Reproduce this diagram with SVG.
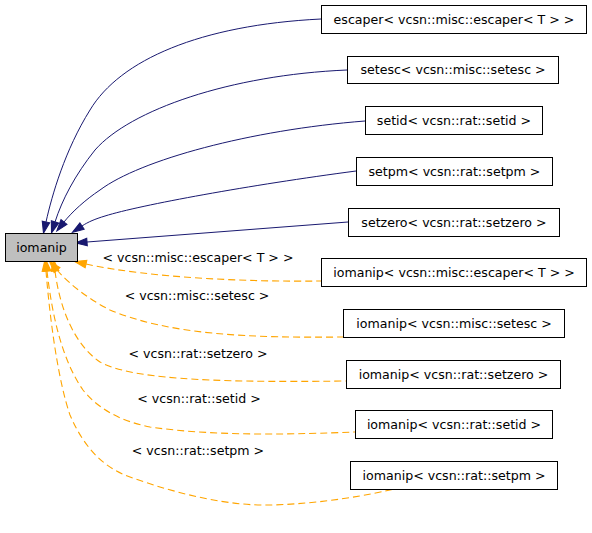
<svg xmlns="http://www.w3.org/2000/svg" width="592" height="533" viewBox="0 0 592 533">
<style>
  .bg { fill: #ffffff; }
  .node rect { fill: #ffffff; stroke: #000000; stroke-width: 1; }
  .node.main rect { fill: #bfbfbf; }
  text { font-family: "DejaVu Sans", "Liberation Sans", sans-serif; font-size: 12.6px; fill: #000000; text-anchor: middle; }
  .inh { fill: none; stroke: #191970; stroke-width: 1; marker-start: url(#navyArrow); }
  .tpl { fill: none; stroke: #ffa500; stroke-width: 1.1; stroke-dasharray: 7,4; marker-start: url(#orangeArrow); }
</style>
<defs>
  <marker id="navyArrow" markerUnits="userSpaceOnUse" markerWidth="12" markerHeight="10" refX="0" refY="4" orient="auto-start-reverse" viewBox="0 0 11 8" overflow="visible">
    <path d="M0,0.5 L10.5,4 L0,7.5 z" fill="#191970" stroke="#191970" stroke-width="1"/>
  </marker>
  <marker id="orangeArrow" markerUnits="userSpaceOnUse" markerWidth="12" markerHeight="10" refX="0" refY="4" orient="auto-start-reverse" viewBox="0 0 11 8" overflow="visible">
    <path d="M0,0.5 L10.5,4 L0,7.5 z" fill="#ffa500" stroke="#ffa500" stroke-width="1"/>
  </marker>
</defs>
<rect class="bg" x="0" y="0" width="592" height="533"/>
<g id="edges">
  <path class="inh" d="M46,222 C52,195 65,150 90,110 C120,60 200,25 321,19"/>
  <path class="inh" d="M55,222 C62,200 75,175 95,150 C130,110 230,75 347,70"/>
  <path class="inh" d="M64,222 C72,212 85,200 100,190 C140,160 250,130 365,121"/>
  <path class="inh" d="M82,226 C88,222 95,219 105,216 C140,205 250,185 356,171"/>
  <path class="inh" d="M87,242 L348,222"/>
  <path class="tpl" d="M86,264 C150,278 250,282 321,281"/>
  <path class="tpl" d="M57,270 C70,285 90,300 110,310 C170,335 250,338 343,337"/>
  <path class="tpl" d="M55,271 C60,310 75,345 100,362 C130,378 200,383 346,381"/>
  <path class="tpl" d="M47,271 C52,315 62,360 83,390 C95,405 115,420 150,427 C220,437 300,434 355,432"/>
  <path class="tpl" d="M46,271 C50,320 58,380 70,415 C85,450 105,468 130,477 C180,495 230,506 270,505 C320,504 370,495 398,488"/>
  <text x="198" y="262">&lt; vcsn::misc::escaper&lt; T &gt; &gt;</text>
  <text x="197" y="300">&lt; vcsn::misc::setesc &gt;</text>
  <text x="198" y="358">&lt; vcsn::rat::setzero &gt;</text>
  <text x="199" y="403">&lt; vcsn::rat::setid &gt;</text>
  <text x="198" y="455">&lt; vcsn::rat::setpm &gt;</text>
</g>
<g id="node-iomanip" class="node main">
  <rect x="5.5" y="233.5" width="72" height="28"/>
  <text x="41.5" y="251.5">iomanip</text>
</g>
<g id="node-escaper" class="node">
  <rect x="321.5" y="5.5" width="265" height="28"/>
  <text x="454" y="23.5">escaper&lt; vcsn::misc::escaper&lt; T &gt; &gt;</text>
</g>
<g id="node-setesc" class="node">
  <rect x="347.5" y="56.5" width="211" height="27"/>
  <text x="453" y="74">setesc&lt; vcsn::misc::setesc &gt;</text>
</g>
<g id="node-setid" class="node">
  <rect x="365.5" y="106.5" width="177" height="28"/>
  <text x="454" y="124.5">setid&lt; vcsn::rat::setid &gt;</text>
</g>
<g id="node-setpm" class="node">
  <rect x="356.5" y="157.5" width="196" height="28"/>
  <text x="454.5" y="175.5">setpm&lt; vcsn::rat::setpm &gt;</text>
</g>
<g id="node-setzero" class="node">
  <rect x="348.5" y="208.5" width="211" height="28"/>
  <text x="454" y="226.5">setzero&lt; vcsn::rat::setzero &gt;</text>
</g>
<g id="node-iomanip-escaper" class="node">
  <rect x="321.5" y="258.5" width="265" height="28"/>
  <text x="454" y="276.5">iomanip&lt; vcsn::misc::escaper&lt; T &gt; &gt;</text>
</g>
<g id="node-iomanip-setesc" class="node">
  <rect x="343.5" y="309.5" width="221" height="28"/>
  <text x="454" y="327.5">iomanip&lt; vcsn::misc::setesc &gt;</text>
</g>
<g id="node-iomanip-setzero" class="node">
  <rect x="346.5" y="360.5" width="214" height="28"/>
  <text x="453.5" y="378.5">iomanip&lt; vcsn::rat::setzero &gt;</text>
</g>
<g id="node-iomanip-setid" class="node">
  <rect x="355.5" y="410.5" width="197" height="28"/>
  <text x="454" y="428.5">iomanip&lt; vcsn::rat::setid &gt;</text>
</g>
<g id="node-iomanip-setpm" class="node">
  <rect x="350.5" y="461.5" width="207" height="28"/>
  <text x="454" y="479.5">iomanip&lt; vcsn::rat::setpm &gt;</text>
</g>
</svg>
